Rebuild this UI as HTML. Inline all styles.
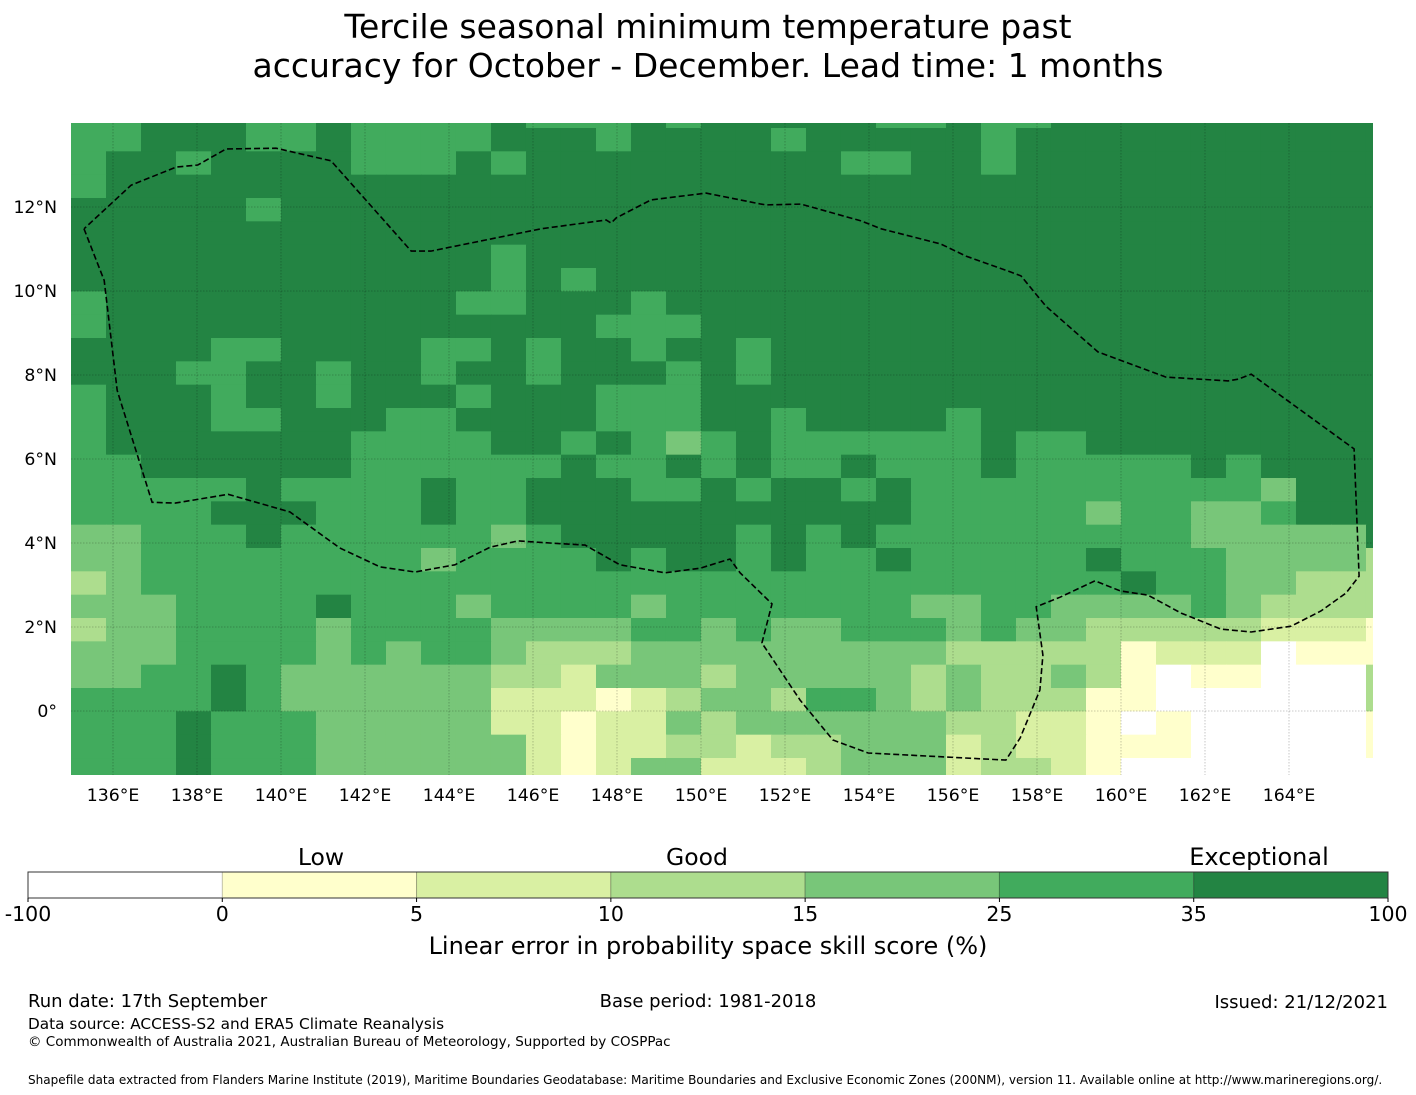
<!DOCTYPE html>
<html><head><meta charset="utf-8">
<style>
html,body{margin:0;padding:0;background:#fff;}
svg{display:block;font-family:"DejaVu Sans","Liberation Sans",sans-serif;}
</style></head>
<body>
<svg id="chart" width="1416" height="1095" viewBox="0 0 1416 1095" xmlns="http://www.w3.org/2000/svg">
<defs><clipPath id="plotclip"><rect x="71" y="123" width="1302" height="652"/></clipPath></defs>
<text x="708" y="38" font-size="33" text-anchor="middle">Tercile seasonal minimum temperature past</text>
<text x="708" y="77" font-size="33" text-anchor="middle">accuracy for October - December. Lead time: 1 months</text>
<g id="cells" clip-path="url(#plotclip)"></g>
<g id="grid" clip-path="url(#plotclip)"></g>
<path id="eez" fill="none" stroke="#000" stroke-width="1.6" stroke-dasharray="6,3" clip-path="url(#plotclip)"/>
<g id="axes"></g>
<g id="cbar"></g>
<text x="321" y="865" font-size="23.5" text-anchor="middle">Low</text>
<text x="697" y="865" font-size="23.5" text-anchor="middle">Good</text>
<text x="1259" y="865" font-size="24" text-anchor="middle">Exceptional</text>
<text x="708" y="954" font-size="24" text-anchor="middle">Linear error in probability space skill score (%)</text>
<text x="28" y="1007" font-size="18">Run date: 17th September</text>
<text x="708" y="1007" font-size="18" text-anchor="middle">Base period: 1981-2018</text>
<text x="1388" y="1008" font-size="18" text-anchor="end">Issued: 21/12/2021</text>
<text x="28" y="1029" font-size="15.3">Data source: ACCESS-S2 and ERA5 Climate Reanalysis</text>
<text x="28" y="1046" font-size="13.5">© Commonwealth of Australia 2021, Australian Bureau of Meteorology, Supported by COSPPac</text>
<text x="28" y="1084" font-size="12.05">Shapefile data extracted from Flanders Marine Institute (2019), Maritime Boundaries Geodatabase: Maritime Boundaries and Exclusive Economic Zones (200NM), version 11. Available online at http://www.marineregions.org/.</text>
</svg>
<script>
// class index per grid cell: 0=-100..0, 1=0..5, 2=5..10, 3=10..15, 4=15..25, 5=25..35, 6=35..100
var skillRows = [
"55666556555565556566666556556666666666",
"55666556555566656666566666566666666666",
"56656666555656666666665566566666666666",
"56666666666666666666666666666666666666",
"66666566666666666666666666666666666666",
"66666666666666666666666666666666666666",
"66666666666656666666666666666666666666",
"66666666666656566666666666666666666666",
"56666666666556665666666666666666666666",
"56666666666666655566666666666666666666",
"66665566665565665665666666666666666666",
"66655665665665666565666666666666666666",
"56665665666566655566666666666666666666",
"56665566655666655566566665666666666666",
"56666666555566565456555555655666666666",
"55666666555555655656556555655555656666",
"55555655556556665565665655555555554666",
"55556665556556666666666655555455445666",
"44555655555545666665656555555555444446",
"44555555554555565665655655555655544443",
"34555555555555555555555555555565544333",
"44455556555455554555555544554444543333",
"34455554555544445545445554544333332221",
"44455554545543334444444443333312220111",
"44556544444433244434444434334310110003",
"55556544444422212344355434333110000003",
"55565554444422122434444443322101000001",
"55565554444442122332334442322111000001",
"55565554444442124422234442332100000000"
];
var classColors = ["#ffffff","#ffffcc","#d9f0a3","#addd8e","#78c679","#41ab5d","#238443"];
var lonTicks = [136,138,140,142,144,146,148,150,152,154,156,158,160,162,164];
var latTicks = [0,2,4,6,8,10,12];
var cbarTickLabels = ["-100","0","5","10","15","25","35","100"];
var eezLonLat = [[135.31,11.48],[135.79,10.25],[136.1,7.63],[136.93,4.97],[137.48,4.95],[138.74,5.16],[140.21,4.74],[141.4,3.88],[142.36,3.43],[143.19,3.31],[144.14,3.48],[144.98,3.9],[145.64,4.05],[146.4,4.0],[147.24,3.95],[148.07,3.48],[149.14,3.29],[149.98,3.4],[150.69,3.62],[150.93,3.29],[151.69,2.55],[151.45,1.62],[152.36,0.26],[153.14,-0.69],[153.98,-1.0],[157.26,-1.17],[157.6,-0.64],[158.07,0.5],[158.14,1.33],[157.98,2.48],[158.55,2.71],[159.38,3.1],[159.98,2.86],[160.64,2.76],[161.43,2.33],[162.38,1.95],[163.1,1.88],[164.05,2.02],[164.76,2.38],[165.36,2.81],[165.67,3.21],[165.55,6.24],[163.1,8.02],[162.79,7.9],[162.55,7.86],[161.07,7.95],[159.45,8.55],[158.21,9.64],[157.62,10.36],[157.38,10.45],[156.31,10.83],[155.71,11.12],[154.29,11.48],[153.81,11.67],[152.38,12.07],[151.55,12.05],[151.43,12.07],[150.12,12.33],[148.81,12.17],[147.98,11.74],[147.86,11.62],[147.74,11.69],[146.19,11.48],[143.57,10.95],[143.1,10.95],[141.19,13.1],[139.88,13.4],[138.69,13.38],[138.02,13.0],[137.5,12.95],[136.43,12.52],[135.31,11.48]];

var NS = "http://www.w3.org/2000/svg";
function xLon(l){ return 71 + (l - 135) * 42; }
function yLat(l){ return 711 - l * 42; }
var cellLon = 0.83333, cellLat = 0.55556, gridTopLat = 13.881 + cellLat;
function mk(tag, attrs, parent){ var e = document.createElementNS(NS, tag); for (var k in attrs) e.setAttribute(k, attrs[k]); parent.appendChild(e); return e; }

var cells = document.getElementById("cells");
for (var r = 0; r < skillRows.length; r++) {
  var row = skillRows[r];
  for (var c = 0; c < row.length; c++) {
    var cls = +row[c];
    var x0 = xLon(135 + c * cellLon), x1 = xLon(135 + (c + 1) * cellLon);
    var y0 = yLat(gridTopLat - r * cellLat), y1 = yLat(gridTopLat - (r + 1) * cellLat);
    var rc = mk("rect", {x: x0, y: y0, width: x1 - x0 + 0.6, height: y1 - y0 + 0.6, fill: classColors[cls]}, cells);
    
    
  }
}

var grid = document.getElementById("grid");
var axes = document.getElementById("axes");
lonTicks.forEach(function(l){
  var gl = mk("line", {x1: xLon(l), x2: xLon(l), y1: 123, y2: 775, stroke: "#000", "stroke-opacity": 0.28, "stroke-width": 0.8, "stroke-dasharray": "1.5,1.5"}, grid);
  
  
  var t = mk("text", {x: xLon(l), y: 801, "font-size": 17.3, "text-anchor": "middle"}, axes);
  t.textContent = l + "°E";
  
  
});
latTicks.forEach(function(l){
  var gl = mk("line", {x1: 71, x2: 1373, y1: yLat(l), y2: yLat(l), stroke: "#000", "stroke-opacity": 0.28, "stroke-width": 0.8, "stroke-dasharray": "1.5,1.5"}, grid);
  
  
  var t = mk("text", {x: 57, y: yLat(l) + 6, "font-size": 17.3, "text-anchor": "end"}, axes);
  t.textContent = l === 0 ? "0°" : l + "°N";
  
  
});

var d = eezLonLat.map(function(p, i){ return (i ? "L" : "M") + xLon(p[0]).toFixed(1) + "," + yLat(p[1]).toFixed(1); }).join(" ");
document.getElementById("eez").setAttribute("d", d);

var cbar = document.getElementById("cbar");
var cbX = 28, cbW = 1360, cbY = 872, cbH = 26, n = classColors.length, seg = cbW / n;
for (var i = 0; i < n; i++) {
  var s = mk("rect", {x: cbX + i * seg, y: cbY, width: seg, height: cbH, fill: classColors[i], stroke: i ? "rgba(0,0,0,0.25)" : "none", "stroke-width": 1}, cbar);
  
  
}
var fr = mk("rect", {x: cbX, y: cbY, width: cbW, height: cbH, fill: "none", stroke: "#333", "stroke-width": 1}, cbar);


cbarTickLabels.forEach(function(lbl, i){
  var x = cbX + i * seg;
  var tk = mk("line", {x1: x, x2: x, y1: cbY + cbH, y2: cbY + cbH + 4, stroke: "#000", "stroke-width": 1}, cbar);
  
  
  var t = mk("text", {x: x, y: 921, "font-size": 20.5, "text-anchor": "middle"}, cbar);
  t.textContent = lbl;
  
  
});
</script>
</body></html>
